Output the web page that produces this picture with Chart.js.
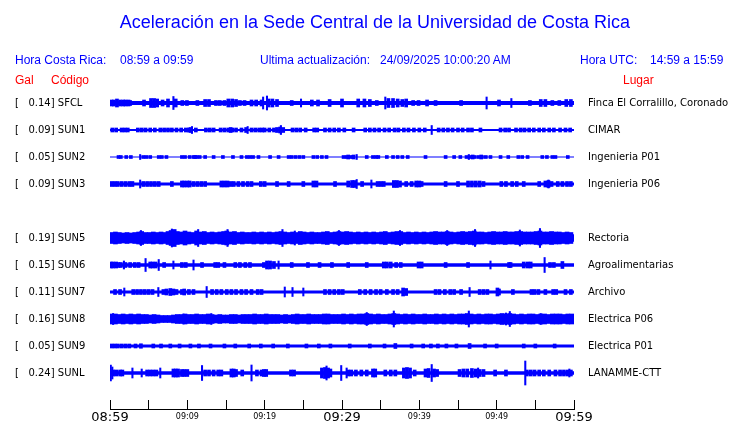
<!DOCTYPE html>
<html>
<head>
<meta charset="utf-8">
<title>Aceleración Sede Central UCR</title>
<script src="https://cdn.jsdelivr.net/npm/chart.js@4/dist/chart.umd.min.js"></script>
<style>
  body{ margin:0; background:#fff; }
  #wrap{ position:relative; width:740px; height:423px; overflow:hidden; font-family:"Liberation Sans", Arial, sans-serif; }
  #wrap canvas{ position:absolute; left:0; top:0; }
  .txt{ position:absolute; white-space:pre; line-height:1; }
  .blue{ color:#0000ff; }
  .red{ color:#ff0000; }
</style>
</head>
<body>
<div id="wrap">
  <canvas id="sismoCanvas" width="740" height="423"></canvas>
  <div class="txt blue" id="title" style="left:5px;width:740px;text-align:center;top:13px;font-size:18px;"></div>
  <div class="txt blue" id="crLabel" style="left:15px;top:54px;font-size:12px;"></div>
  <div class="txt blue" id="crRange" style="left:120px;top:54px;font-size:12px;"></div>
  <div class="txt blue" id="updLabel" style="left:260px;top:54px;font-size:12px;"></div>
  <div class="txt blue" id="updValue" style="left:380px;top:54px;font-size:12px;"></div>
  <div class="txt blue" id="utcLabel" style="left:580px;top:54px;font-size:12px;"></div>
  <div class="txt blue" id="utcRange" style="left:650px;top:54px;font-size:12px;"></div>
  <div class="txt red" id="galHead" style="left:15px;top:74px;font-size:12px;"></div>
  <div class="txt red" id="codeHead" style="left:51px;top:74px;font-size:12px;"></div>
  <div class="txt red" id="placeHead" style="left:623px;top:74px;font-size:12px;"></div>
</div>
<script>
// --- Header texts -------------------------------------------------------------
const titleText   = 'Aceleración en la Sede Central de la Universidad de Costa Rica';
const headerTexts = {
  crLabel: 'Hora Costa Rica:', crRange: '08:59 a 09:59',
  updLabel: 'Ultima actualización:', updValue: '24/09/2025 10:00:20 AM',
  utcLabel: 'Hora UTC:', utcRange: '14:59 a 15:59',
  galHead: 'Gal', codeHead: 'Código', placeHead: 'Lugar'
};

// --- Time axis (minutes after 08:59) ----------------------------------------
const tickLabels = ['08:59','','09:09','','09:19','','09:29','','09:39','','09:49','','09:59'];
const majorTicks = ['08:59','09:29','09:59'];

// --- Stations (one row each, null = empty row) -------------------------------
const rowCodes = ['SFCL','SUN1','SUN2','SUN3',null,'SUN5','SUN6','SUN7','SUN8','SUN9','SUNL'];
const peakGal  = [0.14, 0.09, 0.05, 0.09, null, 0.19, 0.15, 0.11, 0.16, 0.05, 0.24];
const places   = ['Finca El Corralillo, Coronado','CIMAR','Ingenieria P01','Ingenieria P06',null,
                  'Rectoria','Agroalimentarias','Archivo','Electrica P06','Electrica P01','LANAMME-CTT'];
// steady background level of each trace (half amplitude, Gal)
const coreGal  = [0.04, 0.02, 0.01, 0.03, null, 0.075, 0.035, 0.03, 0.06, 0.03, 0.035];

// bursts [minute, half amplitude in Gal]
const sfclBlips = [[0.2,.06],[0.5,.06],[0.9,.08],[1.3,.06],[1.7,.06],[2.0,.06],[2.4,.06],[2.6,.05],[4.4,.06],[5.3,.09],[5.7,.09],[6.1,.08],[6.8,.06],[7.5,.08],[8.5,.08],[9.35,.05],[9.95,.05],[11.3,.05],[12.3,.07],[12.8,.07],[13.7,.05],[14.2,.05],[14.8,.05],[15.3,.08],[15.8,.08],[16.3,.07],[16.8,.05],[17.4,.05],[18.3,.06],[18.9,.06],[19.6,.06],[20.5,.08],[21.0,.08],[21.6,.07],[23.5,.05],[26.1,.06],[26.9,.06],[28.4,.07],[30.0,.08],[32.1,.08],[32.9,.08],[33.6,.07],[34.5,.05],[36.0,.09],[36.6,.09],[37.2,.08],[37.8,.07],[38.3,.08],[39.2,.05],[39.9,.05],[41.0,.06],[42.1,.05],[45.4,.05],[50.3,.06],[54.3,.05],[55.7,.07],[56.3,.07],[57.2,.05],[58.1,.05],[59.0,.07],[59.6,.07]];
const sfclSpikes = [[8.2,.13],[19.8,.12],[20.3,.14],[24.7,.08],[35.6,.12],[48.7,.12],[51.9,.09]];

const sun1Blips = [[0.3,.04],[0.8,.04],[1.5,.04],[1.9,.04],[2.3,.04],[3.6,.04],[4.1,.04],[4.6,.04],[5.2,.04],[5.8,.04],[6.5,.04],[7.0,.04],[7.5,.04],[8.0,.04],[8.6,.04],[9.2,.04],[9.8,.04],[10.2,.04],[10.4,.05],[11.1,.04],[12.4,.04],[12.9,.04],[13.4,.04],[14.3,.04],[14.8,.04],[15.3,.04],[15.6,.05],[15.8,.04],[16.3,.04],[17.0,.04],[17.6,.05],[18.3,.04],[18.8,.04],[19.3,.04],[19.7,.04],[20.0,.04],[20.6,.04],[21.2,.04],[21.6,.05],[22.0,.06],[22.4,.05],[23.6,.04],[24.1,.04],[24.6,.04],[25.3,.04],[26.4,.04],[26.8,.04],[27.8,.04],[28.4,.04],[29.0,.04],[29.6,.04],[30.3,.04],[31.5,.04],[33.0,.04],[33.6,.04],[34.2,.04],[34.8,.04],[35.5,.04],[36.1,.04],[36.8,.04],[37.3,.04],[38.0,.04],[38.6,.04],[39.3,.04],[40.0,.04],[40.7,.04],[42.5,.04],[43.1,.04],[43.7,.04],[44.3,.04],[45.0,.04],[45.6,.04],[46.3,.04],[46.8,.04],[47.9,.04],[50.5,.04],[51.1,.04],[51.6,.04],[52.5,.04],[53.1,.04],[53.6,.04],[54.2,.04],[54.8,.04],[55.5,.04],[56.1,.04],[56.8,.04],[57.4,.04],[58.2,.04],[58.9,.04],[59.5,.04]];
const sun1Spikes = [[10.6,.07],[17.8,.07],[22.1,.09],[41.6,.09]];

const sun2Blips = [[1.1,.03],[1.4,.03],[2.1,.03],[2.7,.03],[4.3,.03],[4.7,.03],[5.2,.03],[6.3,.03],[6.7,.03],[7.3,.03],[9.3,.03],[9.7,.03],[10.3,.03],[10.8,.03],[11.0,.03],[11.2,.03],[11.6,.03],[12.3,.03],[13.4,.03],[14.6,.03],[15.9,.03],[17.0,.03],[17.7,.03],[18.1,.03],[18.5,.03],[19.2,.03],[20.7,.03],[21.8,.03],[23.1,.03],[23.5,.03],[24.0,.03],[24.5,.03],[25.0,.03],[26.3,.03],[26.8,.03],[27.4,.03],[28.0,.03],[30.2,.03],[30.6,.03],[30.8,.04],[31.0,.03],[31.4,.03],[31.5,.04],[33.2,.03],[34.0,.03],[34.4,.03],[34.7,.03],[35.8,.03],[36.6,.03],[37.2,.03],[37.8,.03],[38.5,.03],[40.8,.03],[43.4,.03],[44.5,.03],[45.3,.03],[46.1,.03],[46.6,.03],[46.9,.04],[47.1,.03],[47.6,.03],[48.0,.04],[48.1,.03],[48.6,.03],[49.2,.03],[50.5,.03],[51.5,.03],[52.8,.03],[53.3,.03],[54.0,.03],[55.9,.03],[56.5,.03],[57.2,.03],[57.6,.03],[59.2,.03]];
const sun2Spikes = [[3.9,.05],[31.9,.05],[46.4,.05]];

const sun3Blips = [[0.2,.05],[0.6,.05],[1.0,.05],[1.5,.05],[2.0,.05],[2.5,.05],[2.9,.05],[4.3,.05],[4.8,.05],[5.3,.05],[5.8,.05],[6.3,.05],[8.0,.05],[9.3,.06],[9.6,.06],[10.0,.06],[10.3,.06],[10.8,.05],[11.3,.05],[11.8,.05],[12.3,.05],[14.4,.06],[14.8,.06],[15.2,.06],[15.6,.05],[16.0,.05],[16.6,.05],[17.2,.05],[17.8,.05],[18.3,.05],[19.5,.05],[20.0,.05],[21.6,.05],[23.1,.05],[25.0,.05],[26.3,.06],[26.7,.06],[29.1,.05],[30.8,.06],[31.3,.07],[31.6,.07],[32.6,.05],[34.6,.05],[35.0,.05],[35.4,.05],[36.7,.07],[37.1,.07],[37.5,.06],[38.3,.05],[39.0,.05],[39.6,.06],[40.0,.06],[40.3,.05],[43.4,.05],[45.0,.05],[46.3,.06],[46.8,.06],[47.3,.06],[47.8,.06],[48.3,.05],[50.6,.05],[51.2,.05],[52.0,.05],[52.6,.05],[53.5,.05],[55.5,.05],[56.3,.06],[56.7,.07],[57.1,.05],[57.9,.05],[58.5,.05],[59.1,.05],[59.6,.05]];
const sun3Spikes = [[3.9,.08],[31.9,.09],[33.8,.08],[56.7,.08]];

const sun5Blips = [[0.2,.11],[0.7,.12],[1.2,.11],[1.7,.10],[2.2,.11],[2.7,.10],[3.2,.11],[3.7,.12],[4.1,.13],[4.6,.11],[5.1,.11],[5.6,.12],[6.1,.11],[6.6,.12],[7.0,.11],[7.5,.13],[7.9,.15],[8.3,.17],[8.7,.13],[9.2,.12],[9.7,.14],[10.2,.12],[10.7,.11],[11.2,.14],[11.7,.12],[12.2,.13],[12.7,.11],[13.2,.12],[13.7,.11],[14.2,.12],[14.7,.13],[15.1,.14],[15.6,.12],[16.1,.13],[16.6,.11],[17.1,.12],[17.6,.11],[18.1,.11],[18.6,.12],[19.1,.11],[19.6,.12],[20.1,.11],[20.6,.12],[21.1,.11],[21.6,.12],[22.1,.13],[22.6,.12],[23.1,.11],[23.6,.12],[24.1,.11],[24.6,.13],[25.1,.12],[25.6,.11],[26.1,.12],[26.6,.11],[27.1,.11],[27.6,.12],[28.1,.13],[28.6,.11],[29.1,.12],[29.6,.13],[30.1,.12],[30.6,.13],[31.1,.12],[31.6,.11],[32.1,.12],[32.6,.11],[33.1,.12],[33.6,.11],[34.1,.12],[34.6,.11],[35.1,.12],[35.6,.13],[36.1,.11],[36.6,.12],[37.1,.13],[37.6,.13],[38.1,.11],[38.6,.12],[39.1,.11],[39.6,.12],[40.1,.11],[40.6,.12],[41.1,.11],[41.6,.12],[42.1,.13],[42.6,.12],[43.1,.12],[43.6,.13],[44.1,.12],[44.6,.11],[45.1,.12],[45.6,.13],[46.1,.12],[46.6,.13],[47.1,.14],[47.6,.12],[48.1,.12],[48.6,.11],[49.1,.12],[49.6,.13],[50.1,.12],[50.6,.12],[51.1,.13],[51.6,.12],[52.1,.12],[52.6,.13],[53.1,.13],[53.6,.12],[54.1,.12],[54.6,.12],[55.1,.13],[55.6,.14],[56.1,.12],[56.6,.12],[57.1,.13],[57.6,.12],[58.1,.12],[58.6,.11],[59.1,.12],[59.6,.11]];
const sun5Spikes = [[4.0,.15],[8.0,.18],[11.4,.17],[15.2,.17],[22.3,.17],[23.9,.14],[29.6,.15],[37.5,.15],[43.6,.15],[47.2,.17],[53.0,.16],[55.6,.19]];

const sun6Blips = [[0.1,.06],[0.4,.06],[0.8,.06],[1.1,.05],[1.4,.05],[2.0,.05],[2.6,.05],[3.2,.05],[3.7,.05],[5.2,.06],[5.5,.06],[5.9,.06],[7.0,.05],[9.3,.05],[9.8,.05],[11.9,.05],[13.6,.05],[14.0,.05],[14.8,.05],[16.2,.05],[16.8,.05],[17.5,.05],[18.1,.05],[19.9,.05],[20.3,.08],[20.7,.08],[21.2,.07],[23.5,.05],[25.6,.05],[27.1,.05],[28.7,.05],[30.8,.05],[33.2,.05],[35.4,.06],[35.8,.06],[36.3,.06],[37.0,.05],[37.6,.05],[39.9,.06],[40.3,.06],[43.4,.05],[46.3,.05],[51.6,.05],[51.8,.05],[53.5,.06],[54.0,.06],[54.4,.06],[56.9,.05],[57.4,.05],[58.5,.07]];
const sun6Spikes = [[1.8,.08],[4.6,.13],[6.3,.11],[8.2,.08],[10.8,.10],[21.8,.08],[49.2,.08],[56.2,.15]];

const sun7Blips = [[0.65,.05],[1.3,.05],[3.0,.05],[3.5,.05],[4.0,.05],[4.5,.05],[5.0,.05],[5.5,.05],[6.9,.05],[7.3,.06],[7.8,.07],[8.2,.06],[8.6,.05],[9.3,.05],[9.6,.06],[10.2,.05],[10.8,.05],[13.2,.05],[13.8,.05],[14.4,.05],[15.1,.05],[15.7,.05],[16.3,.05],[17.0,.05],[17.6,.05],[18.3,.05],[19.1,.05],[19.6,.05],[27.8,.05],[28.4,.05],[29.0,.05],[29.6,.05],[30.1,.05],[32.3,.05],[33.0,.05],[33.7,.05],[34.4,.05],[35.0,.05],[35.8,.05],[36.6,.05],[37.2,.05],[37.9,.08],[38.3,.07],[42.1,.05],[42.6,.05],[43.3,.05],[44.0,.05],[44.5,.05],[45.4,.05],[47.8,.05],[48.3,.05],[48.8,.05],[50.1,.08],[50.3,.06],[52.1,.05],[54.5,.05],[54.9,.05],[55.4,.05],[56.3,.05],[57.3,.05],[57.7,.05],[58.9,.05],[59.6,.05]];
const sun7Spikes = [[1.85,.08],[6.25,.09],[12.5,.11],[22.6,.10],[23.6,.09],[25.0,.08],[46.5,.09]];

const sun8Blips = [[0.2,.10],[0.7,.10],[1.2,.09],[1.7,.10],[2.2,.09],[2.7,.10],[3.2,.09],[3.7,.10],[4.2,.09],[4.7,.09],[5.2,.08],[5.7,.09],[6.2,.08],[6.7,.07],[7.2,.07],[7.7,.07],[8.2,.08],[8.7,.09],[9.2,.09],[9.7,.10],[10.2,.09],[10.7,.09],[11.2,.10],[11.7,.09],[12.2,.09],[12.7,.10],[13.2,.09],[13.7,.08],[14.2,.09],[14.7,.08],[15.2,.08],[15.7,.09],[16.2,.09],[16.7,.08],[17.2,.09],[17.7,.09],[18.2,.09],[18.7,.10],[19.2,.09],[19.7,.09],[20.2,.10],[20.7,.09],[21.2,.09],[21.7,.09],[22.2,.08],[22.7,.09],[23.2,.08],[23.7,.09],[24.2,.10],[24.7,.09],[25.2,.09],[25.7,.10],[26.2,.09],[26.7,.09],[27.2,.09],[27.7,.10],[28.2,.10],[28.7,.09],[29.2,.09],[29.7,.09],[30.2,.10],[30.7,.09],[31.2,.10],[31.7,.09],[32.2,.10],[32.7,.10],[33.2,.11],[33.7,.10],[34.2,.09],[34.7,.10],[35.2,.09],[35.7,.09],[36.2,.10],[36.7,.11],[37.2,.10],[37.7,.09],[38.2,.10],[38.7,.09],[39.2,.10],[39.7,.09],[40.2,.09],[40.7,.10],[41.2,.09],[41.7,.09],[42.2,.10],[42.7,.09],[43.2,.10],[43.7,.09],[44.2,.10],[44.7,.09],[45.2,.10],[45.7,.10],[46.2,.11],[46.7,.10],[47.2,.09],[47.7,.10],[48.2,.09],[48.7,.10],[49.2,.10],[49.7,.09],[50.2,.10],[50.7,.11],[51.2,.10],[51.7,.11],[52.2,.10],[52.7,.09],[53.2,.10],[53.7,.09],[54.2,.10],[54.7,.10],[55.2,.09],[55.7,.10],[56.2,.10],[56.7,.09],[57.2,.10],[57.7,.10],[58.2,.10],[58.7,.09],[59.2,.10],[59.7,.10]];
const sun8Spikes = [[0.4,.11],[9.5,.10],[13.1,.11],[33.2,.13],[36.7,.16],[46.4,.16],[51.2,.12],[51.7,.15],[55.7,.11]];

const sun9Blips = [[0.2,.04],[0.6,.04],[1.0,.04],[1.5,.04],[2.0,.04],[2.5,.04],[3.3,.04],[4.0,.045],[5.6,.04],[6.6,.04],[7.8,.04],[9.0,.04],[10.4,.04],[11.5,.04],[13.0,.04],[14.8,.04],[16.2,.04],[18.0,.04],[19.5,.04],[21.1,.04],[23.0,.04],[25.4,.04],[27.0,.04],[28.5,.04],[31.0,.04],[33.6,.04],[35.5,.04],[36.9,.05],[39.0,.04],[40.5,.04],[41.5,.04],[42.4,.04],[43.5,.04],[44.8,.04],[46.5,.05],[48.5,.04],[50.0,.04],[53.5,.04],[55.0,.04],[57.5,.04]];
const sun9Spikes = [];

const sunlBlips = [[0.4,.06],[0.8,.06],[1.3,.06],[1.6,.06],[4.8,.06],[5.2,.06],[5.6,.06],[6.0,.06],[8.2,.08],[8.5,.08],[8.8,.08],[9.3,.07],[9.6,.07],[10.0,.07],[12.3,.06],[12.8,.06],[13.4,.06],[14.0,.06],[14.4,.06],[15.7,.08],[16.0,.08],[16.3,.07],[17.1,.06],[19.0,.06],[19.6,.06],[19.9,.07],[20.2,.07],[23.4,.06],[23.8,.06],[27.4,.10],[27.8,.11],[28.2,.10],[28.5,.08],[30.8,.06],[31.2,.06],[31.8,.06],[32.5,.06],[33.2,.06],[34.0,.08],[34.3,.08],[35.6,.06],[36.3,.06],[36.9,.06],[38.0,.10],[38.4,.11],[38.8,.10],[39.4,.06],[40.8,.08],[41.2,.09],[41.9,.08],[42.3,.07],[45.2,.07],[45.7,.08],[46.2,.08],[46.8,.09],[47.3,.08],[47.8,.07],[48.3,.07],[49.8,.06],[51.2,.06],[53.9,.06],[54.4,.06],[54.9,.06],[55.5,.06],[56.1,.06],[56.8,.06],[57.6,.06],[58.2,.06],[58.7,.06],[59.2,.06],[59.6,.06]];
const sunlSpikes = [[0.1,.16],[0.3,.12],[2.9,.10],[4.1,.08],[6.5,.10],[11.9,.15],[18.3,.16],[28.0,.14],[29.9,.15],[30.6,.10],[41.6,.17],[47.6,.10],[53.7,.24],[59.4,.08]];

// --- Layout helpers -----------------------------------------------------------
var ROW_GAP = 0.54;          // Gal between trace baselines
var TRACE_COLOR = '#0000ff';
var blipSets  = [sfclBlips, sun1Blips, sun2Blips, sun3Blips, null, sun5Blips, sun6Blips, sun7Blips, sun8Blips, sun9Blips, sunlBlips];
var spikeSets = [sfclSpikes, sun1Spikes, sun2Spikes, sun3Spikes, null, sun5Spikes, sun6Spikes, sun7Spikes, sun8Spikes, sun9Spikes, sunlSpikes];
var denseCodes = { SUN5: 4, SUN8: 4 };

function baseOf(row){ return -row * ROW_GAP; }
function rowOf(value){ return Math.round(-value / ROW_GAP); }

function leftLabel(row){
  return '[   ' + peakGal[row].toFixed(2) + '] ' + rowCodes[row];
}

function toBars(list, base){
  return list.map(function(p){ return { x: p[0], y: [base - p[1], base + p[1]] }; });
}

Object.keys(headerTexts).forEach(function(id){
  document.getElementById(id).textContent = headerTexts[id];
});
document.getElementById('title').textContent = titleText;

// --- Datasets -----------------------------------------------------------------
var datasets = [];
rowCodes.forEach(function(code, row){
  if(!code) return;
  var base = baseOf(row);
  var core = coreGal[row];

  datasets.push({
    type: 'line',
    data: [{ x: 0, y: base + core }, { x: 60, y: base + core }],
    borderColor: 'rgba(0,0,0,0)',
    borderWidth: 1,
    pointRadius: 0,
    backgroundColor: TRACE_COLOR,
    fill: { value: base - core }
  });
  datasets.push({
    type: 'bar',
    data: toBars(blipSets[row], base),
    backgroundColor: TRACE_COLOR,
    borderWidth: 0,
    barThickness: denseCodes[code] || 3,
    grouped: false
  });
  datasets.push({
    type: 'bar',
    data: toBars(spikeSets[row], base),
    backgroundColor: TRACE_COLOR,
    borderWidth: 0,
    barThickness: 1.4,
    grouped: false
  });
});

var yMax = 0.26;
var yMin = yMax - 6.38;

function rowTicks(scale){
  var ticks = [];
  rowCodes.forEach(function(code, row){ if(code) ticks.push({ value: baseOf(row) }); });
  scale.ticks = ticks.reverse();
}

// keep the label overhang of each axis from pushing the plot area around
function noOverhang(scale){
  scale.paddingTop = 0;
  scale.paddingBottom = 0;
  scale.paddingLeft = 0;
  scale.paddingRight = 0;
}

// --- Chart --------------------------------------------------------------------
new Chart(document.getElementById('sismoCanvas').getContext('2d'), {
  type: 'bar',
  data: { datasets: datasets },
  options: {
    responsive: false,
    animation: false,
    events: [],
    layout: { padding: { top: 90, left: 15, right: 0, bottom: 0 } },
    plugins: { legend: { display: false }, tooltip: { enabled: false }, title: { display: false } },
    scales: {
      x: {
        type: 'linear', position: 'bottom', min: 0, max: 60, offset: false,
        afterFit: function(scale){ scale.height = 14; noOverhang(scale); },
        border: { display: true, color: '#000', width: 1 },
        grid: { drawOnChartArea: false, drawTicks: true, tickLength: -9, color: '#000', offset: false },
        ticks: {
          stepSize: 5, autoSkip: false, maxRotation: 0, padding: 11.5, color: '#000',
          callback: function(value, index){ return tickLabels[index]; },
          font: function(ctx){
            var lbl = tickLabels[ctx.index];
            return majorTicks.indexOf(lbl) >= 0
              ? { family: 'DejaVu Sans', size: 13, lineHeight: 1 }
              : { family: 'DejaVu Sans', size: 8, lineHeight: 1.4 };
          }
        }
      },
      y: {
        type: 'linear', position: 'left', min: yMin, max: yMax,
        afterBuildTicks: rowTicks,
        afterFit: function(scale){ scale.width = 95; noOverhang(scale); },
        border: { display: false },
        grid: { display: false, drawTicks: false },
        ticks: {
          autoSkip: false, crossAlign: 'far', padding: 0, color: '#000',
          font: { family: 'DejaVu Sans', size: 10 },
          callback: function(value){ return leftLabel(rowOf(value)); }
        }
      },
      y2: {
        type: 'linear', position: 'right', min: yMin, max: yMax,
        afterBuildTicks: rowTicks,
        afterFit: function(scale){ scale.width = 166; noOverhang(scale); },
        border: { display: false },
        grid: { display: false, drawTicks: false },
        ticks: {
          autoSkip: false, padding: 14, color: '#000',
          font: { family: 'DejaVu Sans', size: 10 },
          callback: function(value){ return places[rowOf(value)]; }
        }
      }
    }
  }
});
</script>
</body>
</html>
